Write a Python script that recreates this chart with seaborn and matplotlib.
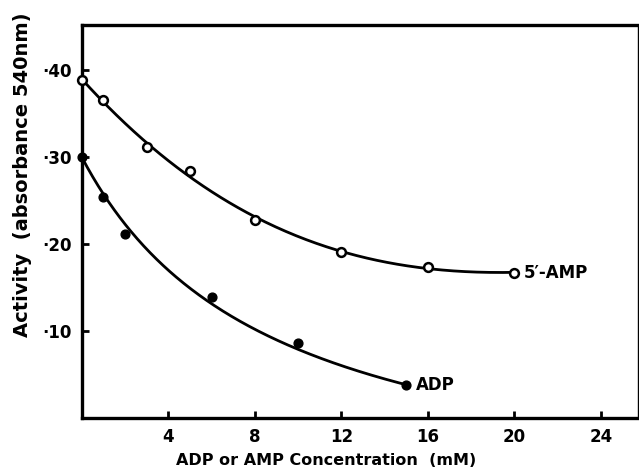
import numpy as np
import pandas as pd
import matplotlib
matplotlib.use("Agg")
import matplotlib.pyplot as plt
import seaborn as sns

# ---- data ----
amp_conc = [0, 1, 3, 5, 8, 12, 16, 20]
amp_activity = [0.389, 0.365, 0.311, 0.284, 0.228, 0.191, 0.173, 0.167]
adp_conc = [0, 1, 2, 6, 10, 15]
adp_activity = [0.300, 0.254, 0.212, 0.139, 0.086, 0.038]

x_ticks = [4, 8, 12, 16, 20, 24]
y_ticks = [0.10, 0.20, 0.30, 0.40]
y_tick_labels = ["·10", "·20", "·30", "·40"]

xlabel = "ADP or AMP Concentration  (mM)"
ylabel = "Activity  (absorbance 540nm)"
amp_label = "5\u2032-AMP"
adp_label = "ADP"


def poly_fit(x, y, deg=3):
    c = np.polyfit(np.asarray(x, float), np.asarray(y, float), deg)
    return np.poly1d(c)


def hyper_fit(x, y):
    """Weighted least-squares fit y = a + b/(1 + q x) (grid over q),
    with the end points weighted so the curve runs through them."""
    x = np.asarray(x, float)
    y = np.asarray(y, float)
    w = np.ones_like(x)
    w[0] = w[-1] = 6.0
    best = None
    for q in np.linspace(0.005, 2.0, 4000):
        A = np.column_stack([np.ones_like(x), 1.0 / (1.0 + q * x)])
        coef, *_ = np.linalg.lstsq(A * w[:, None], y * w, rcond=None)
        err = np.sum((w * (A @ coef - y)) ** 2)
        if best is None or err < best[0]:
            best = (err, q, coef)
    _, q, (a, b) = best
    return lambda t: a + b / (1.0 + q * t)


sns.set_style("ticks")
plt.rcParams["font.family"] = ["DejaVu Sans"]
plt.rcParams["font.weight"] = "bold"
for key in ["text.color", "axes.labelcolor", "xtick.color", "ytick.color",
            "axes.edgecolor"]:
    plt.rcParams[key] = "black"

fig = plt.figure(figsize=(6.39, 4.71), dpi=100)
ax = fig.add_axes([0.128, 0.1125, 0.870, 0.835])

# fitted smooth curves
f_amp = poly_fit(amp_conc, amp_activity, 3)
f_adp = hyper_fit(adp_conc, adp_activity)
xs_amp = np.linspace(min(amp_conc), max(amp_conc), 300)
xs_adp = np.linspace(min(adp_conc), max(adp_conc), 300)
curves = pd.concat([
    pd.DataFrame({"conc": xs_amp, "act": f_amp(xs_amp), "series": "AMP"}),
    pd.DataFrame({"conc": xs_adp, "act": f_adp(xs_adp), "series": "ADP"}),
])
sns.lineplot(data=curves, x="conc", y="act", units="series", estimator=None,
             color="black", linewidth=2.0, ax=ax, legend=False)

amp_df = pd.DataFrame({"conc": amp_conc, "act": amp_activity})
adp_df = pd.DataFrame({"conc": adp_conc, "act": adp_activity})
sns.scatterplot(data=amp_df, x="conc", y="act", ax=ax, s=40, marker="o",
                facecolor="white", edgecolor="black", linewidth=1.8,
                zorder=3, clip_on=False)
sns.scatterplot(data=adp_df, x="conc", y="act", ax=ax, s=40, marker="o",
                color="black", edgecolor="black", linewidth=1.0,
                zorder=3, clip_on=False)

ax.text(amp_conc[-1] + 0.45, amp_activity[-1], amp_label, fontsize=12,
        fontweight="bold", va="center", ha="left")
ax.text(adp_conc[-1] + 0.45, adp_activity[-1], adp_label, fontsize=12,
        fontweight="bold", va="center", ha="left")

ax.set_xlim(0, 25.7)
ax.set_ylim(0, 0.452)
ax.set_xticks(x_ticks)
ax.set_xticklabels([str(t) for t in x_ticks], fontsize=12, fontweight="bold")
ax.set_yticks(y_ticks)
ax.set_yticklabels(y_tick_labels, fontsize=12, fontweight="bold")
ax.tick_params(direction="in", length=5, width=2, pad=7, color="black")

for sp in ax.spines.values():
    sp.set_linewidth(2.4)
    sp.set_color("black")
ax.spines["right"].set_linewidth(1.0)

ax.set_xlabel(xlabel, fontsize=11.5, fontweight="bold")
ax.set_ylabel(ylabel, fontsize=14, fontweight="bold")
ax.xaxis.set_label_coords(0.439, -0.090)
ax.yaxis.set_label_coords(-0.09, 0.618)

fig.savefig("out.png", dpi=100, facecolor="white")
